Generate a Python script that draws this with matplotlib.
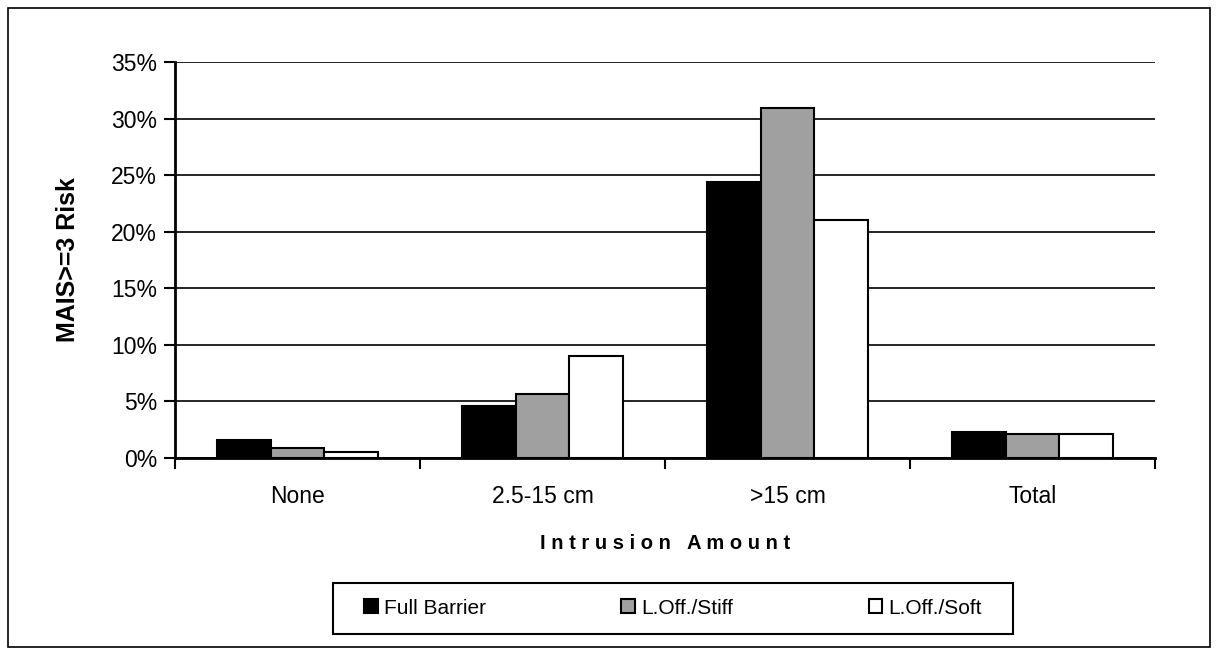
import numpy as np
import matplotlib.pyplot as plt
from matplotlib.patches import Rectangle

plt.rcParams['font.family'] = ['Liberation Sans', 'DejaVu Sans']

categories = ["None", "2.5-15 cm", ">15 cm", "Total"]
series_names = ["Full Barrier", "L.Off./Stiff", "L.Off./Soft"]
full_barrier = [1.6, 4.6, 24.4, 2.3]
loff_stiff = [0.9, 5.65, 30.9, 2.1]
loff_soft = [0.5, 9.0, 21.0, 2.1]
colors = ["#000000", "#a0a0a0", "#ffffff"]

W, H = 1218, 648
fig = plt.figure(figsize=(W / 100, H / 100), dpi=100)
ax = fig.add_axes([175/W, 1 - 458/H, 980/W, 396/H])

# outer chart border
fig.patches.append(Rectangle((8/W, 0.002), 1202/W, 1 - 8/H - 0.002,
                             transform=fig.transFigure, fill=False,
                             edgecolor="black", linewidth=1.2))

x = np.arange(len(categories))
w = 0.22
for i, (vals, c, name) in enumerate(zip([full_barrier, loff_stiff, loff_soft], colors, series_names)):
    ax.bar(x + (i - 1) * w, vals, w, color=c, edgecolor="black", linewidth=1.5,
           label=name, zorder=3)

ax.set_xlim(-0.5, len(categories) - 0.5)
ax.set_ylim(0, 35)
ax.set_yticks(np.arange(0, 36, 5))
ax.set_yticklabels([f"{v}%" for v in range(0, 36, 5)], fontsize=16.5)
ax.yaxis.grid(True, color="black", linewidth=1.2, zorder=0)

ax.set_xticks(x)
ax.set_xticklabels(categories, fontsize=16.5)
ax.tick_params(axis="x", length=0, pad=19.5)
ax.set_xticks(np.arange(-0.5, len(categories)), minor=True)
ax.tick_params(axis="x", which="minor", length=8, width=1.5, direction="out")
ax.tick_params(axis="y", length=8, width=1.5, direction="out", pad=5)

for s in ["top", "right"]:
    ax.spines[s].set_visible(False)
for s in ["left", "bottom"]:
    ax.spines[s].set_linewidth(2)

ax.set_ylabel("MAIS>=3 Risk", fontsize=18, fontweight="bold", labelpad=22)
ax.set_xlabel("I n t r u s i o n   A m o u n t", fontsize=14.5, fontweight="bold", labelpad=19)

# legend box drawn by hand so it matches the original width
fig.patches.append(Rectangle((333/W, 1 - 634/H), 680/W, 51/H,
                             transform=fig.transFigure, fill=False,
                             edgecolor="black", linewidth=1.5))
leg = fig.legend(loc="center", bbox_to_anchor=(673/W, 1 - 608/H), ncol=3,
                 fontsize=15, frameon=False,
                 handlelength=0.65, handleheight=0.65, columnspacing=6.5,
                 borderpad=0, borderaxespad=0, handletextpad=0.3)

fig.savefig("out.png", dpi=100)
